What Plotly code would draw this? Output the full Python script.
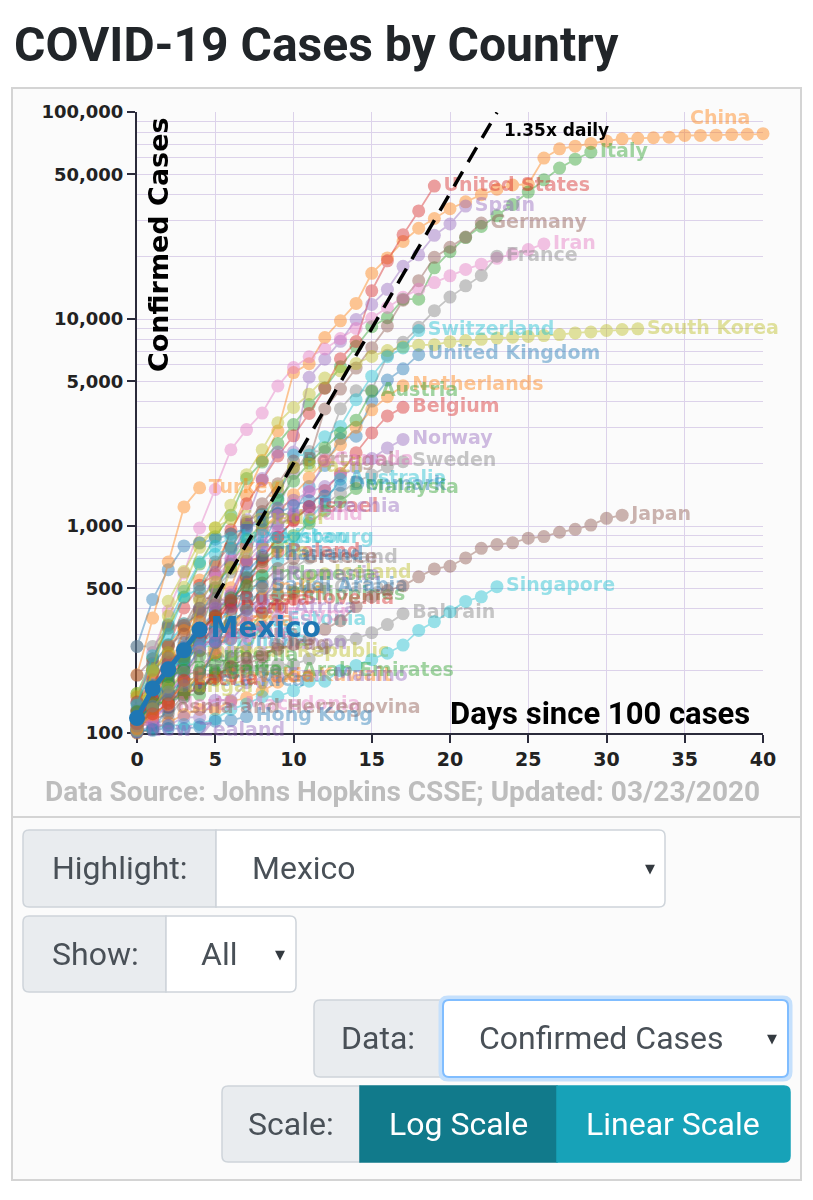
import plotly.graph_objects as go

# confirmed cases, one value per day counted from each country's 100th case
china = [548, 643, 920, 1406, 2075, 2877, 5509, 6087, 8141, 9802, 11891, 16630, 19716, 23707,
         27440, 30587, 34110, 36814, 39829, 42354, 44386, 44759, 59895, 66358, 68413, 70513,
         72434, 74211, 74619, 75077, 75550, 77001, 77022, 77241, 77754, 78166, 78600, 78928,
         79356, 79932, 80136, 80261, 80386, 80537, 80690, 80770, 80823, 80860, 80887, 80921,
         80932, 80945, 80977, 81003, 81033, 81058, 81102, 81156, 81250, 81305, 81435, 81498]
china_start_day = 4
italy = [155, 229, 322, 453, 655, 888, 1128, 1694, 2036, 2502, 3089, 3858, 4636, 5883, 7375,
         9172, 10149, 12462, 12462, 17660, 21157, 24747, 27980, 31506, 35713, 41035, 47021,
         53578, 59138, 63927]
us = [149, 217, 262, 402, 518, 583, 959, 1281, 1663, 2179, 2727, 3499, 4632, 6421, 7786,
      13680, 19101, 25493, 33276, 43847]
spain = [120, 165, 222, 259, 400, 500, 673, 1073, 1695, 2277, 2277, 5232, 6391, 7798, 9942,
         11748, 13910, 17963, 20410, 25374, 28768, 35136]
germany = [130, 159, 196, 262, 482, 670, 799, 1040, 1176, 1457, 1908, 2078, 3675, 4585, 5795,
           7272, 9257, 12327, 15320, 19848, 22213, 24873, 29056]
iran = [139, 245, 388, 593, 978, 1501, 2336, 2922, 3513, 4747, 5823, 6566, 7161, 8042, 9000,
        10075, 11364, 12729, 13938, 14991, 16169, 17361, 18407, 19644, 20610, 21638, 23049]
france = [100, 130, 191, 204, 288, 380, 656, 957, 1134, 1217, 1794, 2293, 2293, 3681, 4496,
          4532, 6683, 7715, 9124, 10970, 12758, 14463, 16243, 20123]
south_korea = [104, 204, 433, 602, 833, 977, 1261, 1766, 2337, 3150, 3736, 4335, 5186, 5621,
               6088, 6593, 7041, 7314, 7478, 7513, 7755, 7869, 7979, 8086, 8162, 8236, 8320,
               8413, 8565, 8652, 8799, 8897, 8961]
switzerland = [114, 214, 268, 337, 374, 491, 652, 652, 1139, 1359, 2200, 2200, 2700, 3028,
               4075, 5294, 6575, 7245, 8795]
uk = [116, 164, 207, 274, 322, 384, 459, 459, 802, 1144, 1145, 1551, 1960, 2642, 2716, 4014,
      5067, 5745, 6726]
netherlands = [128, 188, 265, 321, 382, 503, 503, 806, 962, 1138, 1416, 1711, 2058, 2467,
               3003, 3640, 4216, 4764]
austria = [104, 131, 182, 246, 302, 504, 655, 860, 1018, 1332, 1646, 2013, 2388, 2814, 3244, 4474]
belgium = [109, 169, 200, 239, 267, 314, 314, 559, 689, 886, 1058, 1243, 1486, 1795, 2257,
           2815, 3401, 3743]
norway = [108, 147, 176, 205, 400, 598, 702, 996, 1090, 1221, 1333, 1463, 1550, 1746, 1914,
          2118, 2383, 2621]
sweden = [101, 161, 203, 248, 355, 500, 599, 814, 961, 1022, 1103, 1190, 1279, 1439, 1639,
          1763, 1934, 2046]
portugal = [112, 169, 245, 331, 448, 448, 785, 1020, 1280, 1600, 2060]
brazil = [151, 151, 162, 200, 321, 372, 621, 793, 1021, 1546, 1924]
canada = [108, 117, 193, 198, 252, 415, 478, 657, 800, 943, 1277, 1469, 2088]
australia = [107, 128, 128, 200, 250, 297, 377, 452, 568, 681, 791, 1071, 1314, 1682]
denmark = [262, 442, 615, 801, 827, 864, 914, 977, 1057, 1151, 1255, 1326, 1395, 1572]
malaysia = [117, 129, 149, 149, 197, 238, 428, 566, 673, 790, 900, 1030, 1183, 1306, 1518]
israel = [109, 131, 193, 213, 298, 337, 433, 677, 705, 883, 1071, 1238]
czechia = [116, 141, 189, 253, 298, 396, 464, 694, 833, 995, 1120, 1236]
ireland = [129, 129, 169, 223, 292, 557, 683, 785, 906, 1125]
turkey = [191, 359, 670, 1236, 1529]
luxembourg = [140, 203, 335, 484, 670, 798, 875]
finland = [109, 155, 225, 244, 277, 321, 336, 400, 450, 523, 626, 700]
poland = [103, 119, 177, 238, 251, 355, 425, 536, 634, 749]
iceland = [103, 134, 156, 156, 171, 180, 220, 250, 330, 409, 473, 568, 588]
greece = [190, 228, 331, 331, 387, 418, 418, 495, 530, 624, 695]
chile = [155, 201, 238, 238, 434, 537, 632, 746]
philippines = [111, 140, 142, 187, 202, 217, 230, 307, 380, 462]
thailand = [114, 147, 177, 212, 272, 322, 411, 599, 721]
qatar = [262, 262, 320, 337, 401, 439, 439, 452, 460, 470, 481, 494, 501]
slovenia = [141, 181, 219, 253, 275, 275, 286, 341, 383, 414, 442]
south_africa = [116, 150, 202, 240, 274, 402]
bahrain = [109, 110, 117, 150, 189, 195, 195, 210, 211, 214, 214, 228, 256, 278, 285, 305, 334, 377]
estonia = [115, 171, 205, 225, 258, 267, 283, 306, 326, 352]
lebanon = [110, 120, 133, 157, 163, 187, 248, 267]
croatia = [105, 128, 206, 254, 254, 315]
peru = [117, 145, 234, 234, 318, 363, 395]
panama = [109, 137, 200, 313, 345]
argentina = [128, 158, 266, 301]
colombia = [102, 128, 196, 231, 277]
serbia = [103, 135, 135, 171, 249, 303]
dominican_republic = [112, 202, 245]
armenia = [115, 136, 160, 194, 235]
algeria = [139, 201, 230]
kuwait = [100, 104, 112, 123, 130, 130, 142, 148, 159, 176, 188, 189]
iraq = [110, 116, 124, 154, 164, 192, 208, 214, 233, 266]
egypt = [109, 110, 150, 196, 196, 256, 285, 294, 327, 366]
india = [113, 119, 142, 156, 194, 244, 330, 396, 499]
indonesia = [117, 134, 172, 227, 311, 369, 450, 514, 579]
saudi_arabia = [103, 103, 133, 171, 171, 274, 344, 392, 511]
romania = [123, 131, 158, 184, 260, 277, 308, 367, 433, 576]
russia = [114, 147, 199, 253, 306, 367, 438]
pakistan = [136, 236, 299, 454, 501, 730, 776, 875]
ecuador = [111, 199, 367, 506, 789, 981, 1082]
singapore = [102, 106, 108, 110, 110, 117, 130, 138, 150, 150, 160, 178, 178, 200, 212, 226,
             243, 266, 313, 345, 385, 432, 455, 509]
japan = [105, 132, 144, 157, 164, 186, 210, 230, 239, 254, 268, 284, 317, 349, 408, 455, 488,
         514, 568, 620, 639, 701, 780, 814, 829, 873, 889, 933, 964, 1010, 1089, 1128]
uae = [113, 140, 140, 153, 153, 198]
san_marino = [101, 109, 109, 119, 119, 144, 144, 175, 175, 187]
costa_rica = [117, 134, 158, 177]
north_macedonia = [114, 114, 136]
bosnia = [126, 131]
hong_kong = [101, 104, 105, 105, 107, 114, 115, 120]
new_zealand = [102]
hungary = [103, 131, 167]
slovakia = [105, 123, 137, 178, 185, 186]
bulgaria = [127, 163, 187, 201]
latvia = [111, 124, 139, 180]
taiwan = [108, 135, 153, 169, 195]
mexico = [118, 164, 203, 251, 316]

highlight = "Mexico"

# 1.35x daily reference line
guide_days = [5, 23]
guide_cases = [448, 99500]

y_tickvals = [100, 500, 1000, 5000, 10000, 50000, 100000]
y_ticktext = ["100", "500", "1,000", "5,000", "10,000", "50,000", "100,000"]
x_tickvals = [0, 5, 10, 15, 20, 25, 30, 35, 40]

countries = [
    ("China", china), ("Italy", italy), ("United States", us), ("Spain", spain),
    ("Germany", germany), ("Iran", iran), ("France", france), ("South Korea", south_korea),
    ("Switzerland", switzerland), ("United Kingdom", uk), ("Netherlands", netherlands),
    ("Austria", austria), ("Belgium", belgium), ("Norway", norway), ("Portugal", portugal),
    ("Brazil", brazil), ("Sweden", sweden), ("Canada", canada), ("Australia", australia),
    ("Denmark", denmark), ("Malaysia", malaysia), ("Israel", israel), ("Czechia", czechia),
    ("Ireland", ireland), ("Turkey", turkey), ("Luxembourg", luxembourg), ("Finland", finland),
    ("Poland", poland), ("Iceland", iceland), ("Greece", greece), ("Chile", chile),
    ("Philippines", philippines), ("Thailand", thailand), ("Qatar", qatar),
    ("Slovenia", slovenia), ("South Africa", south_africa), ("Bahrain", bahrain),
    ("Estonia", estonia), ("Lebanon", lebanon), ("Croatia", croatia), ("Peru", peru),
    ("Panama", panama), ("Argentina", argentina), ("Colombia", colombia), ("Serbia", serbia),
    ("Dominican Republic", dominican_republic), ("Armenia", armenia), ("Algeria", algeria),
    ("Kuwait", kuwait), ("Iraq", iraq), ("Egypt", egypt), ("India", india),
    ("Indonesia", indonesia), ("Saudi Arabia", saudi_arabia), ("Romania", romania),
    ("Russia", russia), ("Pakistan", pakistan), ("Ecuador", ecuador), ("Singapore", singapore),
    ("Japan", japan), ("United Arab Emirates", uae), ("San Marino", san_marino),
    ("Costa Rica", costa_rica), ("North Macedonia", north_macedonia),
    ("Bosnia and Herzegovina", bosnia), ("Hong Kong", hong_kong), ("New Zealand", new_zealand),
    ("Hungary", hungary), ("Slovakia", slovakia), ("Bulgaria", bulgaria), ("Latvia", latvia),
    ("Taiwan", taiwan), ("Mexico", mexico),
]

blue, orange, green, red, purple = "#1f77b4", "#ff7f0e", "#2ca02c", "#d62728", "#9467bd"
brown, pink, grey, olive, cyan = "#8c564b", "#e377c2", "#7f7f7f", "#bcbd22", "#17becf"
colors = {
    "China": orange, "Italy": green, "United States": red, "Spain": purple, "Germany": brown,
    "Iran": pink, "France": grey, "South Korea": olive, "Switzerland": cyan,
    "United Kingdom": blue, "Netherlands": orange, "Austria": green, "Belgium": red,
    "Norway": purple, "Portugal": brown, "Brazil": olive, "Sweden": grey, "Canada": pink,
    "Australia": cyan, "Denmark": blue, "Malaysia": green, "Israel": red, "Czechia": purple,
    "Ireland": pink, "Turkey": orange, "Luxembourg": cyan, "Finland": grey, "Poland": red,
    "Iceland": olive, "Greece": brown, "Chile": olive, "Philippines": green, "Thailand": blue,
    "Qatar": grey, "Slovenia": red, "South Africa": purple, "Bahrain": grey, "Estonia": cyan,
    "Lebanon": purple, "Croatia": cyan, "Peru": red, "Panama": orange, "Argentina": brown,
    "Colombia": cyan, "Serbia": pink, "Dominican Republic": olive, "Armenia": green,
    "Algeria": grey, "Kuwait": orange, "Iraq": brown, "Egypt": pink, "India": orange,
    "Indonesia": green, "Saudi Arabia": blue, "Romania": purple, "Russia": red,
    "Pakistan": cyan, "Ecuador": olive, "Singapore": cyan, "Japan": brown,
    "United Arab Emirates": green, "San Marino": purple, "Costa Rica": blue,
    "North Macedonia": pink, "Bosnia and Herzegovina": brown, "Hong Kong": blue,
    "New Zealand": purple, "Hungary": olive, "Slovakia": orange, "Bulgaria": green,
    "Latvia": red, "Taiwan": grey, "Mexico": blue,
}

# page geometry in pixels (plot area box)
FIG_W, FIG_H = 813, 1200
L, R, T, B = 137, 763, 112, 733


def fx(px):
    return (px - L) / (R - L)


def fy(py):
    return (B - py) / (B - T)


def rrect(x0, y0, x1, y1, r=5, left=True, right=True):
    rl = r if left else 0
    rr = r if right else 0
    p = f"M {fx(x0 + rl)},{fy(y0)} L {fx(x1 - rr)},{fy(y0)} "
    p += f"Q {fx(x1)},{fy(y0)} {fx(x1)},{fy(y0 + rr)} L {fx(x1)},{fy(y1 - rr)} "
    p += f"Q {fx(x1)},{fy(y1)} {fx(x1 - rr)},{fy(y1)} L {fx(x0 + rl)},{fy(y1)} "
    p += f"Q {fx(x0)},{fy(y1)} {fx(x0)},{fy(y1 - rl)} L {fx(x0)},{fy(y0 + rl)} "
    p += f"Q {fx(x0)},{fy(y0)} {fx(x0 + rl)},{fy(y0)} Z"
    return p


fig = go.Figure()
label_font = "DejaVu Sans"

for name, vals in countries:
    if name == highlight:
        continue
    start = china_start_day if name == "China" else 0
    days = list(range(start, start + len(vals)))
    col = colors[name]
    text = None if name == "China" else [""] * (len(vals) - 1) + ["<b>" + name + "</b>"]
    fig.add_trace(go.Scatter(
        x=days, y=vals, mode="lines+markers+text" if text else "lines+markers",
        text=text, textposition="middle right",
        textfont=dict(family=label_font, size=19, color=col),
        marker=dict(size=13, color=col), line=dict(color=col, width=1.8),
        opacity=0.44, cliponaxis=False, showlegend=False, hoverinfo="skip",
    ))

# growth guide
fig.add_trace(go.Scatter(
    x=guide_days, y=guide_cases, mode="lines",
    line=dict(color="black", width=3.5, dash="17px,11px"),
    showlegend=False, hoverinfo="skip",
))

# highlighted country on top
hl_vals = dict(countries)[highlight]
fig.add_trace(go.Scatter(
    x=list(range(len(hl_vals))), y=hl_vals, mode="lines+markers+text",
    text=[""] * (len(hl_vals) - 1) + ["<b>" + highlight + "</b>"],
    textposition="middle right",
    textfont=dict(family=label_font, size=28, color=colors[highlight]),
    marker=dict(size=16, color=colors[highlight]),
    line=dict(color=colors[highlight], width=5),
    cliponaxis=False, showlegend=False,
))

grid = "#dcd2ea"
minor_vals = [m * 10 ** e for e in range(2, 5) for m in range(2, 10) if m * 10 ** e not in y_tickvals]

fig.update_layout(
    width=FIG_W, height=FIG_H,
    margin=dict(l=L, r=FIG_W - R, t=T, b=FIG_H - B),
    paper_bgcolor="white", plot_bgcolor="rgba(0,0,0,0)",
    xaxis=dict(range=[0, 40], tickvals=x_tickvals, showgrid=True, gridcolor=grid, gridwidth=1,
               showline=True, linecolor="#2b2b3b", linewidth=2, ticks="outside", ticklen=8,
               tickwidth=2, tickcolor="#2b2b3b", zeroline=False,
               tickfont=dict(family=label_font, size=19, color="#222", weight="bold"),
               layer="below traces"),
    yaxis=dict(type="log", range=[2, 5], tickvals=y_tickvals, ticktext=y_ticktext,
               showgrid=True, gridcolor=grid, gridwidth=1,
               minor=dict(tickmode="array", tickvals=minor_vals, showgrid=True,
                          gridcolor=grid, gridwidth=1, ticks=""),
               showline=True, linecolor="#2b2b3b", linewidth=2, ticks="outside", ticklen=8,
               tickwidth=2, tickcolor="#2b2b3b", zeroline=False,
               tickfont=dict(family=label_font, size=18, color="#222", weight="bold"),
               layer="below traces"),
)

shapes = [
    dict(type="rect", xref="paper", yref="paper", x0=fx(12), x1=fx(801), y0=fy(1180), y1=fy(88),
         fillcolor="#fbfbfb", line=dict(color="#d4d4d4", width=2), layer="below"),
    dict(type="line", xref="paper", yref="paper", x0=fx(12), x1=fx(801), y0=fy(817), y1=fy(817),
         line=dict(color="#d4d4d4", width=2), layer="below"),
]

ui_grey, ui_border = "#e9ecef", "#ced4da"
boxes = [
    (23, 830, 216, 907, ui_grey, ui_border, True, False),
    (216, 830, 665, 907, "white", ui_border, False, True),
    (23, 916, 166, 992, ui_grey, ui_border, True, False),
    (166, 916, 296, 992, "white", ui_border, False, True),
    (314, 1000, 443, 1077, ui_grey, ui_border, True, False),
    (222, 1086, 360, 1162, ui_grey, ui_border, True, False),
    (360, 1086, 557, 1162, "#117a8b", "#117a8b", False, False),
    (557, 1086, 790, 1162, "#17a2b8", "#17a2b8", False, True),
]
for x0, y0, x1, y1, fill, edge, lft, rgt in boxes:
    shapes.append(dict(type="path", xref="paper", yref="paper", path=rrect(x0, y0, x1, y1, 6, lft, rgt),
                       fillcolor=fill, line=dict(color=edge, width=1.5), layer="above"))
# focused select (Data)
shapes.append(dict(type="path", xref="paper", yref="paper", path=rrect(440, 997, 791, 1080, 8, True, True),
                   fillcolor="#c5e0fc", line=dict(color="#c5e0fc", width=3), layer="above"))
shapes.append(dict(type="path", xref="paper", yref="paper", path=rrect(443, 1000, 788, 1077, 6, True, True),
                   fillcolor="white", line=dict(color="#80bdff", width=2), layer="above"))
fig.update_layout(shapes=shapes)

ui_font = "Roboto"
ui_size = 32
ann = [
    dict(x=fx(12), y=fy(45), text="<b>COVID-19 Cases by Country</b>", xanchor="left",
         font=dict(family=ui_font, size=48, color="#212529")),
    dict(x=fx(159), y=fy(245), text="<b>Confirmed Cases</b>", textangle=-90,
         font=dict(family=label_font, size=27, color="black")),
    dict(x=fx(752), y=fy(713), text="<b>Days since 100 cases</b>", xanchor="right",
         font=dict(family=ui_font, size=31, color="black")),
    dict(x=fx(502), y=fy(130), text="<b>1.35x daily</b>", xanchor="left",
         font=dict(family=label_font, size=17, color="black")),
    dict(x=fx(402), y=fy(791), text="<b>Data Source: Johns Hopkins CSSE; Updated: 03/23/2020</b>",
         font=dict(family=ui_font, size=28, color="#bdbdbd")),
    dict(x=fx(688), y=fy(117), text="<b>China</b>", xanchor="left", opacity=0.44,
         font=dict(family=label_font, size=19, color=orange)),
    dict(x=fx(120), y=fy(868), text="Highlight:", font=dict(family=ui_font, size=ui_size, color="#495057")),
    dict(x=fx(250), y=fy(868), text=highlight, xanchor="left",
         font=dict(family=ui_font, size=ui_size, color="#495057")),
    dict(x=fx(650), y=fy(868), text="▼", font=dict(family=label_font, size=13, color="#343a40")),
    dict(x=fx(95), y=fy(954), text="Show:", font=dict(family=ui_font, size=ui_size, color="#495057")),
    dict(x=fx(199), y=fy(954), text="All", xanchor="left",
         font=dict(family=ui_font, size=ui_size, color="#495057")),
    dict(x=fx(280), y=fy(954), text="▼", font=dict(family=label_font, size=13, color="#343a40")),
    dict(x=fx(378), y=fy(1038), text="Data:", font=dict(family=ui_font, size=ui_size, color="#495057")),
    dict(x=fx(477), y=fy(1038), text="Confirmed Cases", xanchor="left",
         font=dict(family=ui_font, size=ui_size, color="#495057")),
    dict(x=fx(772), y=fy(1038), text="▼", font=dict(family=label_font, size=13, color="#343a40")),
    dict(x=fx(291), y=fy(1124), text="Scale:", font=dict(family=ui_font, size=ui_size, color="#495057")),
    dict(x=fx(458), y=fy(1124), text="Log Scale", font=dict(family=ui_font, size=ui_size, color="white")),
    dict(x=fx(673), y=fy(1124), text="Linear Scale", font=dict(family=ui_font, size=ui_size, color="white")),
]
for a in ann:
    a.update(xref="paper", yref="paper", showarrow=False)
    a.setdefault("xanchor", "center")
    a.setdefault("yanchor", "middle")
fig.update_layout(annotations=ann)

fig.write_html("out.html", config={"displayModeBar": False},
               post_script="document.body.style.margin='0';")
